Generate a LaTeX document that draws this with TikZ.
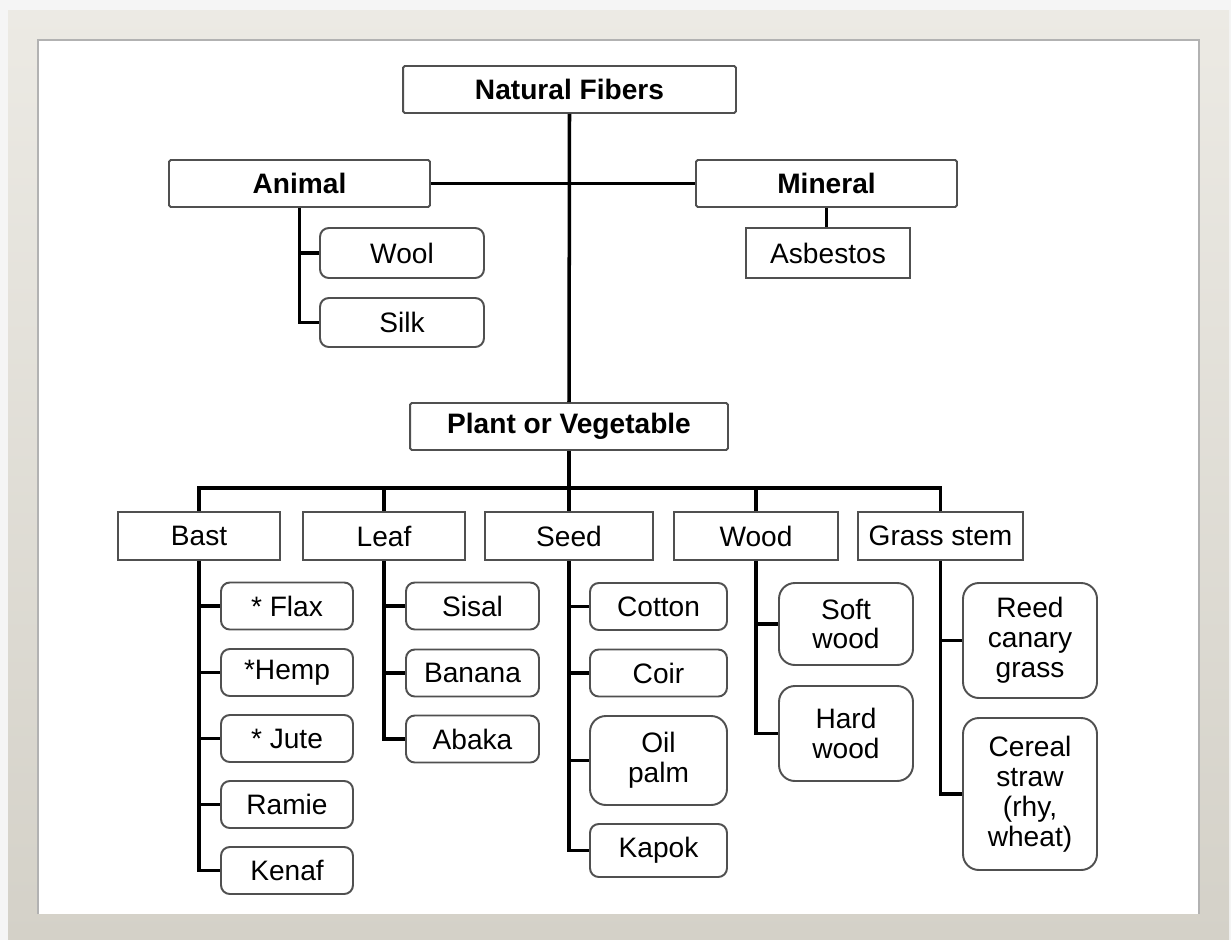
\documentclass[tikz,border=0pt]{standalone}
\usepackage{fontspec}
\setmainfont{Liberation Sans}
\definecolor{marcoclaro}{RGB}{236,234,228}
\definecolor{marcooscuro}{RGB}{212,209,200}
\definecolor{borde}{RGB}{80,80,80}
\tikzset{
  caja/.style={draw=borde, line width=1.1pt, inner sep=0pt, minimum height=0.94cm, align=center, font=\fontsize{16}{17}\selectfont},
  titulo/.style={caja, rounded corners=1pt, font=\fontsize{16}{17}\selectfont\bfseries},
  hoja/.style={caja, rounded corners=5pt},
  hojaalta/.style={caja, rounded corners=9pt},
  rama/.style={line width=2pt, black}
}
\begin{document}
\begin{tikzpicture}[x=0.02cm, y=-0.02cm]
    % Marco
    \useasboundingbox (0,0) rectangle (1231,940);
    \fill[gray!8] (0,0) rectangle (1231,940);
    \shade[top color=marcoclaro, bottom color=marcooscuro] (8,10) rectangle (1229,940);
    \fill[white] (38,40) rectangle (1199,914);
    \draw[gray!60, line width=1pt] (38,914) -- (38,40) -- (1199,40) -- (1199,914);

    % Nivel superior
    \node[titulo, minimum width=6.66cm] (NF) at (569.5,89.5) {Natural Fibers};
    \node[titulo, minimum width=5.22cm] (An) at (299.5,183.5) {Animal};
    \node[titulo, minimum width=5.22cm] (Mi) at (826.5,183.5) {Mineral};
    \node[caja, minimum width=3.28cm, minimum height=1cm] (As) at (828,253) {Asbestos};
    \node[hoja, minimum width=3.28cm, minimum height=1cm] (Wo) at (402,253) {Wool};
    \node[hoja, minimum width=3.28cm, minimum height=0.98cm] (Si) at (402,322.5) {Silk};
    \node[titulo, minimum width=6.36cm] (PV) at (569,426.5) {Plant or Vegetable};

    % Categorias
    \node[caja, minimum width=3.24cm, minimum height=0.96cm] (Ba) at (199,536) {Bast};
    \node[caja, minimum width=3.24cm, minimum height=0.96cm] (Le) at (384,536) {Leaf};
    \node[caja, minimum width=3.36cm, minimum height=0.96cm] (Se) at (569,536) {Seed};
    \node[caja, minimum width=3.28cm, minimum height=0.96cm] (Wd) at (756,536) {Wood};
    \node[caja, minimum width=3.3cm, minimum height=0.96cm] (GS) at (940.5,536) {Grass stem};

    % Bast
    \node[hoja, minimum width=2.64cm] (Fl) at (287,606) {* Flax};
    \node[hoja, minimum width=2.64cm] (He) at (287,672.5) {*Hemp};
    \node[hoja, minimum width=2.64cm] (Ju) at (287,738.5) {* Jute};
    \node[hoja, minimum width=2.64cm] (Ra) at (287,804.5) {Ramie};
    \node[hoja, minimum width=2.64cm] (Ke) at (287,870.5) {Kenaf};

    % Leaf
    \node[hoja, minimum width=2.66cm] (Sis) at (472.5,606) {Sisal};
    \node[hoja, minimum width=2.66cm] (Bn) at (472.5,673) {Banana};
    \node[hoja, minimum width=2.66cm] (Ab) at (472.5,739) {Abaka};

    % Seed
    \node[hoja, minimum width=2.74cm] (Co) at (658.5,606.5) {Cotton};
    \node[hoja, minimum width=2.74cm] (Ci) at (658.5,673) {Coir};
    \node[hojaalta, minimum width=2.74cm, minimum height=1.78cm] (Op) at (658.5,760.5) {Oil\\palm};
    \node[hoja, minimum width=2.74cm, minimum height=1.06cm] (Ka) at (658.5,850.5) {Kapok};

    % Wood
    \node[hojaalta, minimum width=2.68cm, minimum height=1.64cm] (Sw) at (846,624) {Soft\\wood};
    \node[hojaalta, minimum width=2.68cm, minimum height=1.9cm] (Hw) at (846,733.5) {Hard\\wood};

    % Grass stem
    \node[hojaalta, minimum width=2.68cm, minimum height=2.3cm] (Rc) at (1030,640.5) {Reed\\canary\\grass};
    \node[hojaalta, minimum width=2.68cm, minimum height=3.04cm] (Cs) at (1030,794) {Cereal\\straw\\(rhy,\\wheat)};

    % Conectores superiores
    \draw[rama] (NF.south) -- (PV.north);
    \draw[rama] (An.east) -- (Mi.west);
    \draw[rama] (Mi.south) -- (Mi.south |- As.north);
    \draw[rama] (An.south) |- (Si.west);
    \draw[rama] (An.south |- Wo.west) -- (Wo.west);

    % Barra de categorias
    \coordinate (bus) at (569,488);
    \draw[rama] (PV.south) -- (Se.north);
    \draw[rama] (Ba.north) |- (bus) -| (GS.north);
    \draw[rama] (Le.north) -- (Le.north |- bus);
    \draw[rama] (Wd.north) -- (Wd.north |- bus);

    % Ramas de cada categoria
    \draw[rama] (Ba.south) |- (Ke.west);
    \foreach \h in {Fl,He,Ju,Ra} \draw[rama] (Ba.south |- \h.west) -- (\h.west);
    \draw[rama] (Le.south) |- (Ab.west);
    \foreach \h in {Sis,Bn} \draw[rama] (Le.south |- \h.west) -- (\h.west);
    \draw[rama] (Se.south) |- (Ka.west);
    \foreach \h in {Co,Ci,Op} \draw[rama] (Se.south |- \h.west) -- (\h.west);
    \draw[rama] (Wd.south) |- (Hw.west);
    \draw[rama] (Wd.south |- Sw.west) -- (Sw.west);
    \draw[rama] (GS.south) |- (Cs.west);
    \draw[rama] (GS.south |- Rc.west) -- (Rc.west);
\end{tikzpicture}
\end{document}
